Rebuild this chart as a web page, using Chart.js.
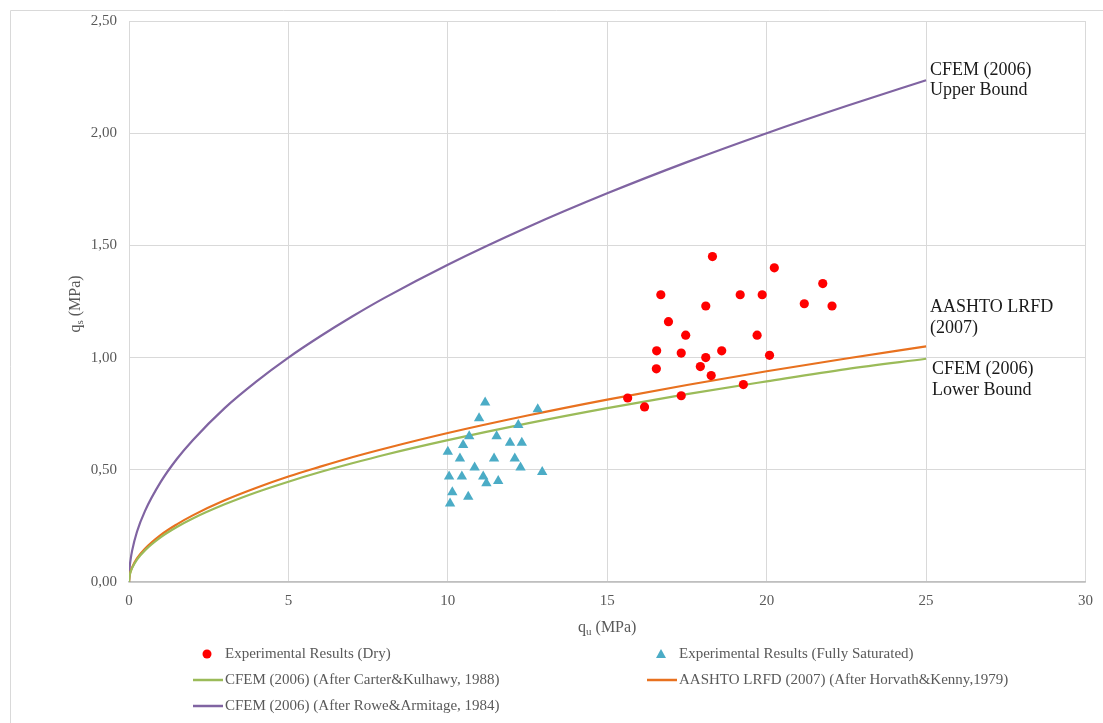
<!DOCTYPE html>
<html>
<head>
<meta charset="utf-8">
<title>qs vs qu</title>
<script src="https://cdn.jsdelivr.net/npm/chart.js@4.4.1/dist/chart.umd.min.js"></script>
<style>
    html, body { margin: 0; padding: 0; background: #fff; }
    #wrap { position: relative; width: 1103px; height: 723px; }
</style>
</head>
<body>
<div id="wrap"><canvas id="qsChart"></canvas></div>
<script>
// Experimental results, dry specimens (qu, qs in MPa)
const dryQu = [15.64, 16.17, 16.54, 16.55, 16.68, 16.92, 17.32, 17.32, 17.46, 17.92, 18.09, 18.09,
    18.26, 18.30, 18.59, 19.17, 19.27, 19.70, 19.86, 20.09, 20.24, 21.18, 21.76, 22.05];
const dryQs = [0.82, 0.78, 0.95, 1.03, 1.28, 1.16, 1.02, 0.83, 1.10, 0.96, 1.00, 1.23,
    0.92, 1.45, 1.03, 1.28, 0.88, 1.10, 1.28, 1.01, 1.40, 1.24, 1.33, 1.23];

// Experimental results, fully saturated specimens
const satQu = [11.17, 12.82, 10.98, 12.21, 10.67, 11.53, 10.48, 11.95, 12.32, 10.00, 10.38, 11.45,
    12.10, 10.84, 12.28, 12.96, 10.04, 10.44, 11.11, 11.21, 11.58, 10.14, 10.64, 10.07];
const satQs = [0.80, 0.77, 0.73, 0.70, 0.65, 0.65, 0.61, 0.62, 0.62, 0.58, 0.55, 0.55,
    0.55, 0.51, 0.51, 0.49, 0.47, 0.47, 0.47, 0.44, 0.45, 0.40, 0.38, 0.35];

// design curves
const curveQu = [0, 0.02, 0.05, 0.1, 0.25, 0.5, 1, 1.5, 2, 3, 4, 5, 6, 7, 8, 10, 12.5, 15, 17.5, 20, 22.5, 25];
const carterQs = [0, 0.028, 0.045, 0.063, 0.100, 0.141, 0.200, 0.245, 0.283, 0.346, 0.400, 0.447, 0.490, 0.529, 0.566, 0.632, 0.707, 0.775, 0.837, 0.894, 0.949, 0.995];
const horvathQs = [0, 0.030, 0.047, 0.066, 0.105, 0.148, 0.210, 0.257, 0.297, 0.364, 0.420, 0.470, 0.514, 0.556, 0.594, 0.664, 0.742, 0.813, 0.878, 0.939, 0.996, 1.050];
const roweQs = [0, 0.063, 0.100, 0.141, 0.224, 0.316, 0.447, 0.548, 0.632, 0.775, 0.894, 1.000, 1.095, 1.183, 1.265, 1.414, 1.581, 1.732, 1.871, 2.000, 2.121, 2.236];

const xTicks = [0, 5, 10, 15, 20, 25, 30];
const yTicks = [0, 0.5, 1.0, 1.5, 2.0, 2.5];

const serif = '"Liberation Serif", "Times New Roman", serif';
const tickGrey = '#595959';

const toPoints = (xs, ys) => xs.map((x, i) => ({ x: x, y: ys[i] }));

function curve(label, ys, color) {
    return {
        label: label,
        data: toPoints(curveQu, ys),
        showLine: true,
        borderColor: color,
        backgroundColor: color,
        borderWidth: 2.2,
        pointRadius: 0,
        cubicInterpolationMode: 'monotone',
        legendLine: true
    };
}

// text notes next to the curve ends + legend + axis titles
const extrasPlugin = {
    id: 'extras',
    beforeDraw(chart) {
        const ctx = chart.ctx;
        ctx.save();
        ctx.strokeStyle = '#d9d9d9';
        ctx.lineWidth = 1;
        ctx.beginPath();
        ctx.moveTo(10.5, 723);
        ctx.lineTo(10.5, 10.5);
        ctx.lineTo(1103, 10.5);
        ctx.stroke();
        ctx.restore();
    },
    afterDraw(chart) {
        const ctx = chart.ctx;
        const xs = chart.scales.x;
        const ys = chart.scales.y;
        ctx.save();

        // curve notes
        ctx.fillStyle = '#1a1a1a';
        ctx.font = '18px ' + serif;
        ctx.textBaseline = 'middle';
        ctx.textAlign = 'left';
        const nx = xs.getPixelForValue(25) + 4;
        ctx.fillText('CFEM (2006)', nx, ys.getPixelForValue(2.28));
        ctx.fillText('Upper Bound', nx, ys.getPixelForValue(2.19));
        ctx.fillText('AASHTO LRFD', nx, ys.getPixelForValue(1.226));
        ctx.fillText('(2007)', nx, ys.getPixelForValue(1.132));
        ctx.fillText('CFEM (2006)', nx + 2, ys.getPixelForValue(0.95));
        ctx.fillText('Lower Bound', nx + 2, ys.getPixelForValue(0.853));

        // axis titles with subscripts
        function subTitle(main, sub, rest, cx, cy, rot) {
            ctx.save();
            ctx.translate(cx, cy);
            if (rot) ctx.rotate(-Math.PI / 2);
            ctx.fillStyle = tickGrey;
            ctx.textBaseline = 'middle';
            ctx.textAlign = 'left';
            const big = '16px ' + serif, small = '11px ' + serif;
            ctx.font = big;
            const w1 = ctx.measureText(main).width;
            const w3 = ctx.measureText(rest).width;
            ctx.font = small;
            const w2 = ctx.measureText(sub).width;
            let x = -(w1 + w2 + w3) / 2;
            ctx.font = big;
            ctx.fillText(main, x, 0);
            x += w1;
            ctx.font = small;
            ctx.fillText(sub, x, 4);
            x += w2;
            ctx.font = big;
            ctx.fillText(rest, x, 0);
            ctx.restore();
        }
        subTitle('q', 'u', ' (MPa)', (xs.left + xs.right) / 2, 628, false);
        subTitle('q', 's', ' (MPa)', 76, 304, true);

        // legend in two columns
        const colX = [207, 661];
        const rowY = [654, 680, 706];
        ctx.font = '15px ' + serif;
        ctx.textBaseline = 'middle';
        chart.data.datasets.forEach((ds, i) => {
            const cx = colX[i % 2];
            const cy = rowY[Math.floor(i / 2)];
            let tx;
            if (ds.legendLine) {
                ctx.strokeStyle = ds.borderColor;
                ctx.lineWidth = 2.5;
                ctx.beginPath();
                ctx.moveTo(cx - 14, cy);
                ctx.lineTo(cx + 16, cy);
                ctx.stroke();
                tx = cx + 18;
            } else if (ds.pointStyle === 'triangle') {
                ctx.fillStyle = ds.backgroundColor;
                ctx.beginPath();
                ctx.moveTo(cx, cy - 5);
                ctx.lineTo(cx + 5, cy + 4);
                ctx.lineTo(cx - 5, cy + 4);
                ctx.closePath();
                ctx.fill();
                tx = cx + 18;
            } else {
                ctx.fillStyle = ds.backgroundColor;
                ctx.beginPath();
                ctx.arc(cx, cy, 4.5, 0, Math.PI * 2);
                ctx.fill();
                tx = cx + 18;
            }
            ctx.fillStyle = tickGrey;
            ctx.fillText(ds.label, tx, cy);
        });
        ctx.restore();
    }
};

const ctx = document.getElementById('qsChart').getContext('2d');
new Chart(ctx, {
    type: 'scatter',
    data: {
        datasets: [
            {
                label: 'Experimental Results (Dry)',
                data: toPoints(dryQu, dryQs),
                backgroundColor: '#ff0000',
                borderColor: '#ff0000',
                pointStyle: 'circle',
                pointRadius: 4.6,
                borderWidth: 0
            },
            {
                label: 'Experimental Results (Fully Saturated)',
                data: toPoints(satQu, satQs),
                backgroundColor: '#4bacc6',
                borderColor: '#4bacc6',
                pointStyle: 'triangle',
                pointRadius: 6,
                borderWidth: 0
            },
            curve('CFEM (2006) (After Carter&Kulhawy, 1988)', carterQs, '#9bbb59'),
            curve('AASHTO LRFD (2007) (After Horvath&Kenny,1979)', horvathQs, '#e8711f'),
            curve('CFEM (2006) (After Rowe&Armitage, 1984)', roweQs, '#8064a2')
        ]
    },
    options: {
        responsive: true,
        maintainAspectRatio: false,
        animation: false,
        layout: {
            padding: { top: 21, right: 15, bottom: 0, left: 0 }
        },
        plugins: {
            legend: { display: false },
            tooltip: { enabled: false }
        },
        scales: {
            x: {
                type: 'linear',
                min: 0,
                max: 30,
                afterBuildTicks: (s) => { s.ticks = xTicks.map(v => ({ value: v })); },
                afterFit: (s) => { s.height = 723 - 582; },
                grid: { color: '#d9d9d9', lineWidth: 1, drawTicks: false },
                border: { color: '#bfbfbf', width: 1.5 },
                ticks: {
                    padding: 10,
                    color: tickGrey,
                    font: { family: serif, size: 15 },
                    maxRotation: 0
                }
            },
            y: {
                type: 'linear',
                min: 0,
                max: 2.5,
                afterBuildTicks: (s) => { s.ticks = yTicks.map(v => ({ value: v })); },
                afterFit: (s) => { s.width = 129; },
                grid: { color: '#d9d9d9', lineWidth: 1, drawTicks: false },
                border: { display: false },
                ticks: {
                    padding: 12,
                    color: tickGrey,
                    font: { family: serif, size: 15 },
                    callback: (v) => v.toFixed(2).replace('.', ',')
                }
            }
        }
    },
    plugins: [extrasPlugin]
});
</script>
</body>
</html>
